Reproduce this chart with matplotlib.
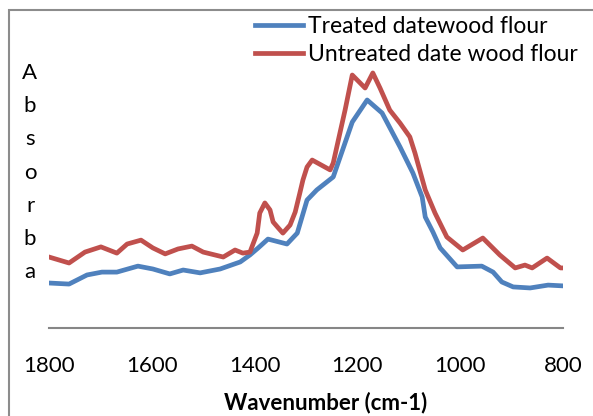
import numpy as np
import matplotlib.pyplot as plt
from matplotlib.patches import Rectangle

# Data (arbitrary absorbance units)
wn_untreated = [1800, 1761, 1730, 1699, 1668, 1648, 1621, 1598, 1574, 1549, 1522, 1500,
                1461, 1438, 1423, 1409, 1395, 1390, 1380, 1370, 1364, 1354, 1345, 1331,
                1321, 1312, 1306, 1298, 1288, 1253, 1247, 1234, 1224, 1210, 1185, 1170,
                1156, 1137, 1117, 1098, 1088, 1068, 1049, 1026, 995, 956, 923, 893, 874,
                860, 831, 805, 800]
abs_untreated = [0.273, 0.250, 0.292, 0.312, 0.288, 0.323, 0.338, 0.308, 0.285, 0.304,
                 0.315, 0.292, 0.273, 0.300, 0.288, 0.292, 0.365, 0.442, 0.481, 0.454,
                 0.408, 0.385, 0.365, 0.396, 0.446, 0.519, 0.569, 0.619, 0.646, 0.608,
                 0.635, 0.750, 0.838, 0.973, 0.923, 0.981, 0.923, 0.838, 0.788, 0.735,
                 0.673, 0.531, 0.442, 0.350, 0.300, 0.346, 0.281, 0.231, 0.242, 0.231,
                 0.269, 0.231, 0.231]

wn_treated = [1800, 1761, 1726, 1697, 1668, 1627, 1598, 1565, 1539, 1506, 1467, 1428,
              1409, 1393, 1374, 1337, 1317, 1298, 1279, 1247, 1210, 1181, 1152, 1117,
              1092, 1074, 1068, 1053, 1039, 1006, 958, 936, 919, 897, 864, 829, 800]
abs_treated = [0.173, 0.169, 0.204, 0.215, 0.215, 0.238, 0.227, 0.208, 0.223, 0.212,
               0.227, 0.254, 0.281, 0.308, 0.342, 0.323, 0.365, 0.492, 0.531, 0.581,
               0.792, 0.877, 0.827, 0.696, 0.596, 0.504, 0.427, 0.369, 0.308, 0.235,
               0.238, 0.215, 0.177, 0.158, 0.154, 0.165, 0.162]

xticks = [1800, 1600, 1400, 1200, 1000, 800]
ylabel_letters = list("Absorba")

plt.rcParams['font.family'] = ['Lato', 'DejaVu Sans']

W, H = 593, 416
fig = plt.figure(figsize=(W / 100, H / 100), dpi=100)
ax = fig.add_axes([49 / W, 1 - 328 / H, (563 - 49) / W, (328 - 29) / H])

ax.plot(wn_treated, abs_treated, color='#4F81BD', lw=3.4,
        label='Treated datewood flour', solid_joinstyle='round')
ax.plot(wn_untreated, abs_untreated, color='#C0504D', lw=3.4,
        label='Untreated date wood flour', solid_joinstyle='round')

ax.set_xlim(1800, 800)
ax.set_ylim(0, 1.15)
ax.set_xticks(xticks)
ax.set_xticklabels([str(t) for t in xticks], fontsize=16)
ax.set_yticks([])
ax.tick_params(axis='x', length=0, pad=20)
for s in ['top', 'right', 'left']:
    ax.spines[s].set_visible(False)
ax.spines['bottom'].set_color('#868686')
ax.spines['bottom'].set_linewidth(1.5)

# legend at top right
fig.legend(loc='upper left', bbox_to_anchor=(255 / W, 1 - 16 / H), frameon=False,
           fontsize=16.5, handlelength=2.1, handletextpad=0.2, labelspacing=0.3,
           borderpad=0, borderaxespad=0)

# stacked y label
for i, ch in enumerate(ylabel_letters):
    fig.text(30 / W, 1 - (73 + 33.2 * i) / H, ch, fontsize=16, ha='center', va='center')

fig.text(326 / W, 1 - 403 / H, 'Wavenumber (cm-1)', fontsize=16, fontweight='bold',
         ha='center', va='center')

# chart border (only left/top edges fall inside the image)
fig.patches.append(Rectangle((9 / W, -0.1), 1.2, 1 - 10 / H + 0.1, transform=fig.transFigure,
                             fill=False, edgecolor='#8c8c8c', lw=1.5))

fig.savefig('out.png', dpi=100)
